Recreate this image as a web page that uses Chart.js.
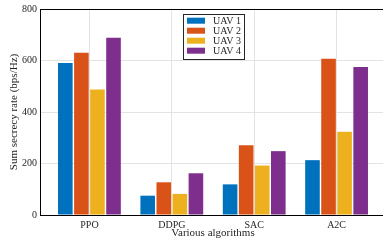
<!DOCTYPE html>
<html>
<head>
<meta charset="utf-8">
<script src="https://cdn.jsdelivr.net/npm/chart.js@4"></script>
<style>
  html, body { margin: 0; padding: 0; background: #fff; overflow: hidden; }
  #wrap { position: relative; width: 383px; height: 242px; overflow: hidden; }
</style>
</head>
<body>
<div id="wrap"><canvas id="chart" width="386" height="242"></canvas></div>
<script>
const algorithms = ['PPO', 'DDPG', 'SAC', 'A2C'];
const uavLabels = ['UAV 1', 'UAV 2', 'UAV 3', 'UAV 4'];
const uav1 = [590, 75, 119, 213];
const uav2 = [630, 127, 271, 607];
const uav3 = [487, 82, 192, 323];
const uav4 = [688, 162, 248, 575];
const yTicks = [0, 200, 400, 600, 800];
const colors = ['#0072BD', '#D95319', '#EDB120', '#7E2F8E'];

const serif = '"Liberation Serif", "Times New Roman", serif';
const textColor = '#262626';

// legend drawn inside the plot, top middle like the matlab figure
const insideLegend = {
    id: 'insideLegend',
    afterDraw(chart) {
        const ctx = chart.ctx;
        const area = chart.chartArea;
        ctx.save();
        // top edge of the axes box (right side is cut off in the figure)
        ctx.strokeStyle = '#000';
        ctx.lineWidth = 1;
        ctx.beginPath();
        ctx.moveTo(area.left, Math.round(area.top) + 0.5);
        ctx.lineTo(area.right, Math.round(area.top) + 0.5);
        ctx.stroke();

        const x0 = 183, y0 = 14, w = 61, h = 45;
        ctx.fillStyle = '#fff';
        ctx.fillRect(x0, y0, w, h);
        ctx.strokeStyle = '#262626';
        ctx.strokeRect(x0 + 0.5, y0 + 0.5, w, h);
        ctx.font = '10px ' + serif;
        ctx.textBaseline = 'middle';
        chart.data.datasets.forEach((ds, i) => {
            const cy = 20.7 + i * 10;
            ctx.fillStyle = ds.backgroundColor;
            ctx.fillRect(187, cy - 3, 18, 6);
            ctx.fillStyle = textColor;
            ctx.fillText(ds.label, 213, cy + 0.5);
        });
        ctx.restore();
    }
};

const series = [uav1, uav2, uav3, uav4];

new Chart(document.getElementById('chart').getContext('2d'), {
    type: 'bar',
    data: {
        datasets: series.map((vals, i) => ({
            label: uavLabels[i],
            data: vals.map((v, j) => ({ x: j + 1, y: v })),
            backgroundColor: colors[i],
            borderWidth: 0,
            categoryPercentage: 0.78,
            barPercentage: 0.91
        }))
    },
    options: {
        responsive: false,
        animation: false,
        layout: { padding: { top: 9, right: 0, left: 0, bottom: 0 } },
        plugins: {
            legend: { display: false },
            tooltip: { enabled: false }
        },
        scales: {
            x: {
                type: 'linear',
                min: 0.4,
                max: 4.6,
                offset: false,
                afterBuildTicks: scale => {
                    scale.ticks = algorithms.map((a, i) => ({ value: i + 1 }));
                },
                afterFit: scale => { scale.height = 27; },
                grid: { color: '#e3e3e3', drawTicks: false, offset: false },
                border: { color: '#000', width: 1 },
                ticks: {
                    color: textColor,
                    font: { family: serif, size: 10 },
                    padding: 4,
                    maxRotation: 0,
                    autoSkip: false,
                    callback: v => algorithms[v - 1] || ''
                },
                title: {
                    display: true,
                    text: 'Various algorithms',
                    color: textColor,
                    font: { family: serif, size: 11 },
                    padding: 2
                }
            },
            y: {
                min: 0,
                max: 800,
                afterBuildTicks: scale => {
                    scale.ticks = yTicks.map(v => ({ value: v }));
                },
                afterFit: scale => { scale.width = 40; },
                grid: { color: '#e3e3e3', drawTicks: false },
                border: { color: '#000', width: 1 },
                ticks: {
                    color: textColor,
                    font: { family: serif, size: 10 },
                    padding: 3
                },
                title: {
                    display: true,
                    text: 'Sum secrecy rate (bps/Hz)',
                    color: textColor,
                    font: { family: serif, size: 11 },
                    padding: 8
                }
            }
        }
    },
    plugins: [insideLegend]
});
</script>
</body>
</html>
